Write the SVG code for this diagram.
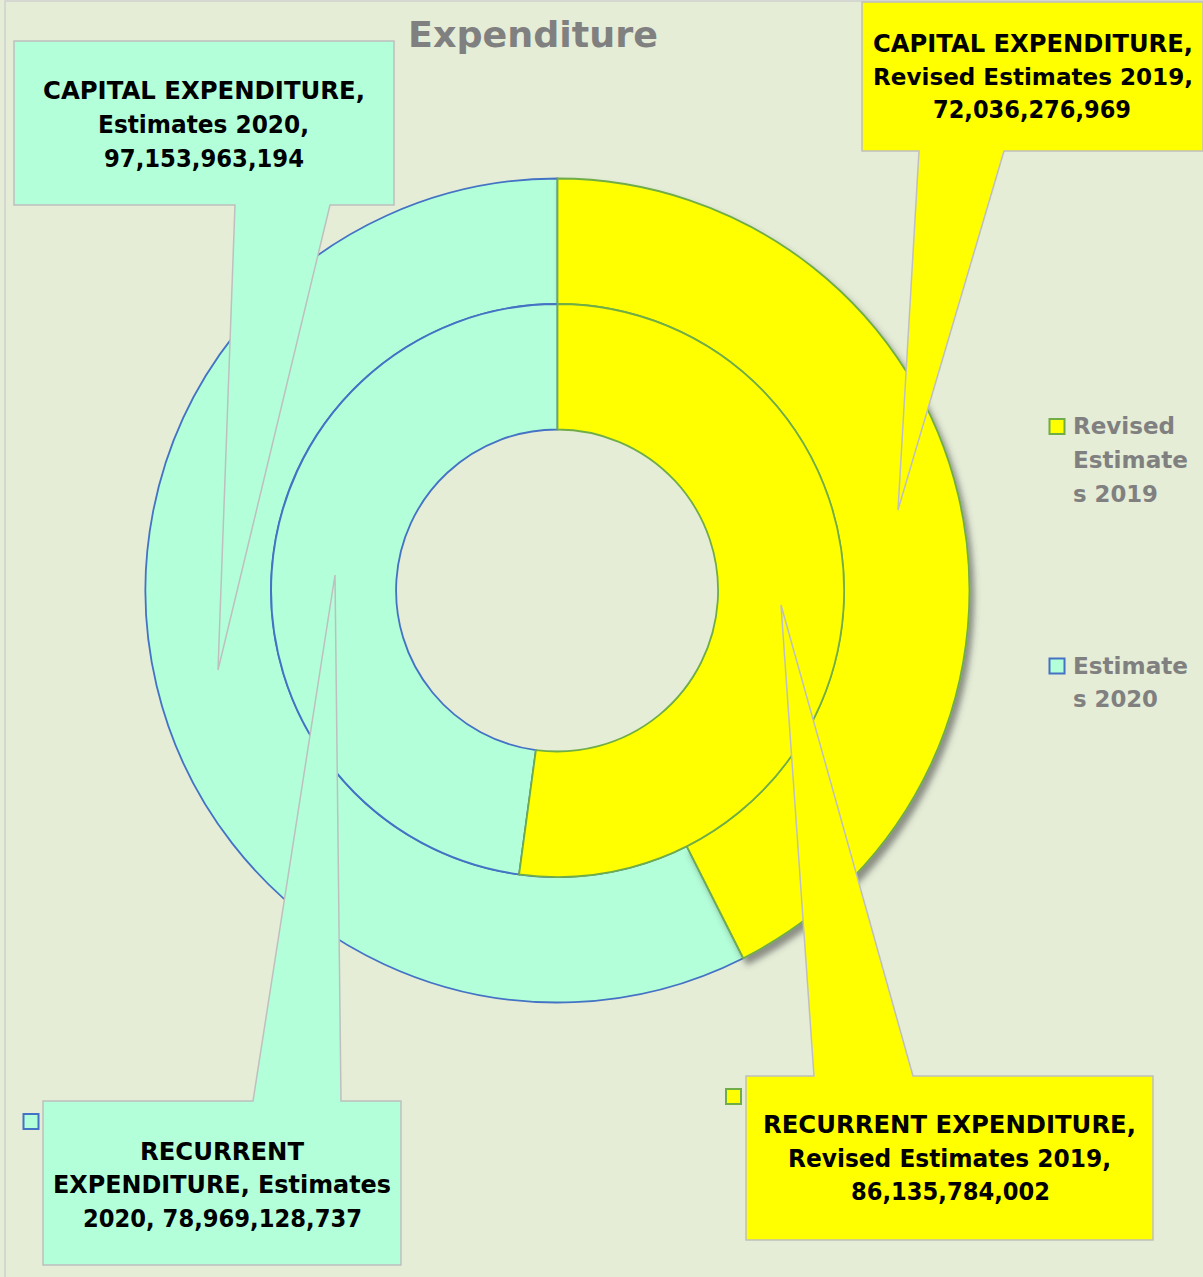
<svg xmlns="http://www.w3.org/2000/svg" width="1203" height="1277" viewBox="0 0 1203 1277">
<style>
.bg{fill:#E5EDD7}
.frame{fill:none;stroke:#D0D0D0;stroke-width:1.5}
.y{fill:#FFFF00;stroke:#70AD47;stroke-width:1.8}
.c{fill:#B3FFD9;stroke:#4472C4;stroke-width:1.8}
.cy{fill:#FFFF00;stroke:#BFBFBF;stroke-width:1.5}
.cc{fill:#B3FFD9;stroke:#BFBFBF;stroke-width:1.5}
.lbl{font-family:"DejaVu Sans","Liberation Sans",Arial,sans-serif;font-weight:bold;font-size:24px;fill:#000}
.leg{font-family:"DejaVu Sans","Liberation Sans",Arial,sans-serif;font-weight:bold;font-size:22.5px;fill:#808080}
.title{font-family:"DejaVu Sans","Liberation Sans",Arial,sans-serif;font-weight:bold;font-size:36px;fill:#808080}
.ky{fill:#FFFF00;stroke:#70AD47;stroke-width:2}
.kc{fill:#B3FFD9;stroke:#4472C4;stroke-width:2}
</style>
<defs>
<filter id="sh" x="-20%" y="-20%" width="150%" height="150%">
<feDropShadow dx="4" dy="6" stdDeviation="3" flood-color="#404040" flood-opacity="0.55"/>
</filter>
</defs>
<rect class="bg" x="0" y="0" width="1203" height="1277"/>
<rect class="frame" x="5" y="1" width="1210" height="1290"/>
<text class="title" x="408" y="47" textLength="250" lengthAdjust="spacingAndGlyphs">Expenditure</text>
<g id="donut">
<g id="outer-estimates-2020"><path class="c" d="M743.3,958.2 A412,412 0 1 1 557.5,178.5 L557.5,304 A286.5,286.5 0 1 0 686.7,846.2 Z"/></g>
<g id="outer-revised-2019"><path class="y" filter="url(#sh)" d="M557.5,178.5 A412,412 0 0 1 743.3,958.2 L686.7,846.2 A286.5,286.5 0 0 0 557.5,304 Z"/></g>
<g id="inner-estimates-2020"><path class="c" d="M519.1,874.4 A286.5,286.5 0 0 1 557.5,304 L557.5,429.5 A161,161 0 0 0 535.9,750.1 Z"/></g>
<g id="inner-revised-2019"><path class="y" d="M557.5,304 A286.5,286.5 0 1 1 519.1,874.4 L535.9,750.1 A161,161 0 1 0 557.5,429.5 Z"/></g>
</g>
<g id="legend">
<rect class="ky" x="1049.5" y="419" width="15" height="15"/>
<text class="leg" x="1073" y="434" textLength="102" lengthAdjust="spacingAndGlyphs">Revised</text>
<text class="leg" x="1073" y="468" textLength="115" lengthAdjust="spacingAndGlyphs">Estimate</text>
<text class="leg" x="1073" y="501.5" textLength="85" lengthAdjust="spacingAndGlyphs">s 2019</text>
<rect class="kc" x="1049.5" y="658.5" width="15" height="15"/>
<text class="leg" x="1073" y="674" textLength="115" lengthAdjust="spacingAndGlyphs">Estimate</text>
<text class="leg" x="1073" y="707" textLength="85" lengthAdjust="spacingAndGlyphs">s 2020</text>
</g>
<g id="callout-capital-2020">
<path class="cc" d="M14,41 H394 V205 H330 L218,670 L235,205 H14 Z"/>
<text class="lbl" x="43" y="99.3" textLength="322" lengthAdjust="spacingAndGlyphs">CAPITAL EXPENDITURE,</text>
<text class="lbl" x="98" y="133" textLength="211" lengthAdjust="spacingAndGlyphs">Estimates 2020,</text>
<text class="lbl" x="104" y="166.7" textLength="200" lengthAdjust="spacingAndGlyphs">97,153,963,194</text>
</g>
<g id="callout-capital-2019">
<path class="cy" d="M862,2 H1203 V151 H1004 L898,510 L919,151 H862 Z"/>
<text class="lbl" x="873" y="51.7" textLength="320" lengthAdjust="spacingAndGlyphs">CAPITAL EXPENDITURE,</text>
<text class="lbl" x="873" y="85" style="font-size:23px" textLength="320" lengthAdjust="spacingAndGlyphs">Revised Estimates 2019,</text>
<text class="lbl" x="933" y="118.3" textLength="198" lengthAdjust="spacingAndGlyphs">72,036,276,969</text>
</g>
<g id="callout-recurrent-2020">
<path class="cc" d="M43,1101 H253 L335,575 L341,1101 H401 V1265 H43 Z"/>
<rect class="kc" x="23.5" y="1114" width="15" height="15"/>
<text class="lbl" x="140" y="1160" textLength="164" lengthAdjust="spacingAndGlyphs">RECURRENT</text>
<text class="lbl" x="53" y="1193.3" textLength="338" lengthAdjust="spacingAndGlyphs">EXPENDITURE, Estimates</text>
<text class="lbl" x="83" y="1227.3" textLength="279" lengthAdjust="spacingAndGlyphs">2020, 78,969,128,737</text>
</g>
<g id="callout-recurrent-2019">
<path class="cy" d="M746,1076 H814 L781,605 L913,1076 H1153 V1240 H746 Z"/>
<rect class="ky" x="726" y="1089" width="15" height="15"/>
<text class="lbl" x="763" y="1133.3" textLength="373" lengthAdjust="spacingAndGlyphs">RECURRENT EXPENDITURE,</text>
<text class="lbl" x="788" y="1166.7" textLength="323" lengthAdjust="spacingAndGlyphs">Revised Estimates 2019,</text>
<text class="lbl" x="851" y="1200" textLength="199" lengthAdjust="spacingAndGlyphs">86,135,784,002</text>
</g>
</svg>
